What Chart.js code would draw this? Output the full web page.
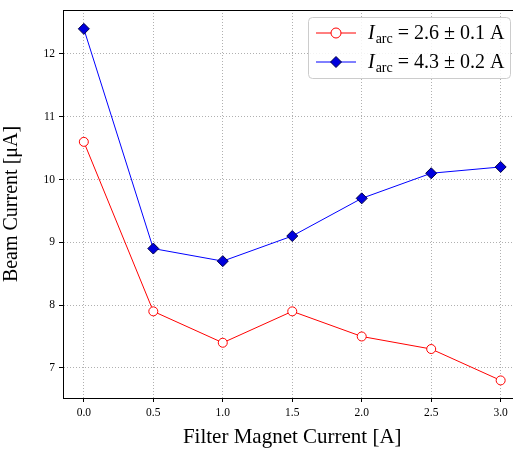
<!DOCTYPE html>
<html>
<head>
<meta charset="utf-8">
<script src="https://cdn.jsdelivr.net/npm/chart.js@4/dist/chart.umd.min.js"></script>
<style>
  html, body { margin: 0; padding: 0; background: white; overflow: hidden; }
  #wrap { width: 513px; height: 450px; overflow: hidden; }
  #c { display: block; }
</style>
</head>
<body>
<div id="wrap"><canvas id="c" width="528" height="450"></canvas></div>
<script>
const filterCurrent = [0.0, 0.5, 1.0, 1.5, 2.0, 2.5, 3.0]
const beamLowArc = [10.6, 7.9, 7.4, 7.9, 7.5, 7.3, 6.8]
const beamHighArc = [12.4, 8.9, 8.7, 9.1, 9.7, 10.1, 10.2]
const xTicks = [0.0, 0.5, 1.0, 1.5, 2.0, 2.5, 3.0]
const yTicks = [7, 8, 9, 10, 11, 12]
const legendLabels = [
  { sub: 'arc', rest: ' = 2.6 ± 0.1 A' },
  { sub: 'arc', rest: ' = 4.3 ± 0.2 A' }
]

const serif = '"Liberation Serif", "DejaVu Serif", serif'

const pts = (ys) => filterCurrent.map((x, i) => ({ x: x, y: ys[i] }))

// top spine + legend box drawn by hand
const frameAndLegend = {
  id: 'frameAndLegend',
  afterDraw(chart) {
    const ctx = chart.ctx
    const a = chart.chartArea
    ctx.save()
    ctx.strokeStyle = '#000'
    ctx.lineWidth = 1
    ctx.beginPath()
    ctx.moveTo(a.left, a.top + 0.5)
    ctx.lineTo(a.right, a.top + 0.5)
    ctx.stroke()

    // legend
    const bx = 308, by = 17, bw = 202, bh = 61
    ctx.fillStyle = 'rgba(255,255,255,0.85)'
    ctx.strokeStyle = '#cccccc'
    ctx.beginPath()
    ctx.roundRect(bx + 0.5, by + 0.5, bw, bh, 4)
    ctx.fill()
    ctx.stroke()

    const rows = [by + 16, by + 45]
    chart.data.datasets.forEach((ds, i) => {
      const y = rows[i]
      ctx.strokeStyle = ds.borderColor
      ctx.lineWidth = 1
      ctx.beginPath()
      ctx.moveTo(316, y)
      ctx.lineTo(356, y)
      ctx.stroke()
      ctx.fillStyle = ds.pointBackgroundColor
      ctx.strokeStyle = ds.pointBorderColor
      ctx.beginPath()
      if (ds.pointStyle === 'circle') {
        ctx.arc(336, y, 5, 0, Math.PI * 2)
      } else {
        ctx.moveTo(336, y - 5.5)
        ctx.lineTo(341.5, y)
        ctx.lineTo(336, y + 5.5)
        ctx.lineTo(330.5, y)
        ctx.closePath()
      }
      ctx.fill()
      ctx.stroke()

      const lab = legendLabels[i]
      ctx.fillStyle = '#000'
      ctx.textBaseline = 'alphabetic'
      let x = 368
      const base = y + 6
      ctx.font = 'italic 20px ' + serif
      ctx.fillText('I', x, base)
      x += ctx.measureText('I').width + 1
      ctx.font = '14px ' + serif
      ctx.fillText(lab.sub, x, base + 4)
      x += ctx.measureText(lab.sub).width
      ctx.font = '20px ' + serif
      ctx.fillText(lab.rest, x, base)
    })
    ctx.restore()
  }
}

new Chart(document.getElementById('c'), {
  type: 'line',
  data: {
    datasets: [
      {
        label: 'I_arc = 2.6 ± 0.1 A',
        data: pts(beamLowArc),
        borderColor: '#ff0000',
        borderWidth: 1,
        pointStyle: 'circle',
        pointRadius: 4.5,
        pointBackgroundColor: '#ffffff',
        pointBorderColor: '#ff0000',
        pointBorderWidth: 1
      },
      {
        label: 'I_arc = 4.3 ± 0.2 A',
        data: pts(beamHighArc),
        borderColor: '#0000ff',
        borderWidth: 1,
        pointStyle: 'rectRot',
        pointRadius: 5.5,
        pointBackgroundColor: '#0000dd',
        pointBorderColor: '#000044',
        pointBorderWidth: 1
      }
    ]
  },
  options: {
    animation: false,
    responsive: false,
    layout: { padding: { top: 10, right: 0, left: 0, bottom: 0 } },
    plugins: {
      legend: { display: false },
      tooltip: { enabled: false }
    },
    scales: {
      x: {
        type: 'linear',
        min: -0.15,
        max: 3.15,
        afterBuildTicks: (s) => { s.ticks = xTicks.map(v => ({ value: v })) },
        afterFit: (s) => { s.height = 52; s.paddingLeft = 0; s.paddingRight = 0 },
        ticks: {
          color: '#000',
          font: { family: serif, size: 11.5 },
          padding: 4,
          maxRotation: 0,
          autoSkip: false,
          callback: (v) => Number(v).toFixed(1)
        },
        grid: {
          color: '#b0b0b0',
          tickColor: '#000',
          tickLength: 4,
          tickBorderDash: [],
          lineWidth: 1
        },
        border: { display: true, color: '#000', width: 1, dash: [1, 2] },
        title: {
          display: true,
          text: 'Filter Magnet Current [A]',
          color: '#000',
          font: { family: serif, size: 21 },
          padding: { top: 5, bottom: 0 }
        }
      },
      y: {
        type: 'linear',
        min: 6.52,
        max: 12.70,
        afterBuildTicks: (s) => { s.ticks = yTicks.map(v => ({ value: v })) },
        afterFit: (s) => { s.width = 63; s.paddingTop = 0; s.paddingBottom = 0 },
        ticks: {
          color: '#000',
          font: { family: serif, size: 11.5 },
          padding: 4,
          autoSkip: false
        },
        grid: {
          color: '#b0b0b0',
          tickColor: '#000',
          tickLength: 4,
          tickBorderDash: [],
          lineWidth: 1
        },
        border: { display: true, color: '#000', width: 1, dash: [1, 2] },
        title: {
          display: true,
          text: 'Beam Current [μA]',
          color: '#000',
          font: { family: serif, size: 20 },
          padding: { top: 0, bottom: 10 }
        }
      }
    }
  },
  plugins: [frameAndLegend]
})
</script>
</body>
</html>
